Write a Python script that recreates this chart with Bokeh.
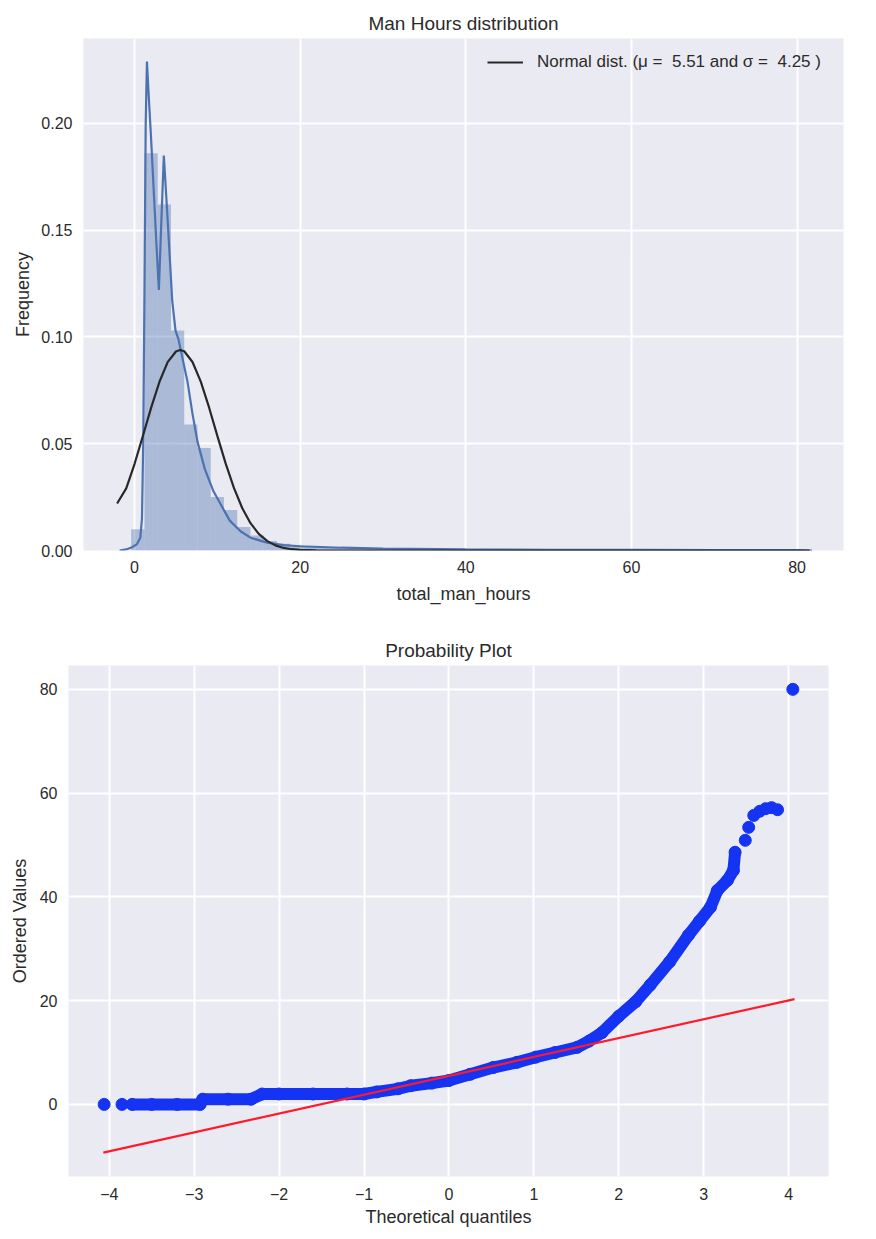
import numpy as np
from bokeh.plotting import figure
from bokeh.models import Range1d, FixedTicker, Legend, LegendItem
from bokeh.layouts import column, row
from bokeh.embed import file_html
from bokeh.resources import INLINE

FONT = "Liberation Sans"
TXT = "#2b2b2b"
BG = "#EAEAF2"

# ---------------- data: top panel (histogram + KDE + normal fit) ----------------
hist_edges = [-0.4, 1.2, 2.8, 4.4, 6.0, 7.6, 9.2, 10.8, 12.4, 14.0, 15.6, 17.2, 18.8,
              20.4, 22.0, 23.6, 25.2, 26.8, 28.4, 30.0, 31.6, 33.2, 34.8, 36.4, 38.0,
              39.6, 41.2, 42.8, 44.4, 46.0, 47.6, 49.2, 50.8, 52.4, 54.0, 55.6, 57.2,
              58.8, 60.4, 62.0, 63.6, 65.2, 66.8, 68.4, 70.0, 71.6, 73.2, 74.8, 76.4,
              78.0, 79.6, 81.2]
hist_density = [0.010, 0.186, 0.162, 0.103, 0.059, 0.048, 0.025, 0.019, 0.011, 0.007,
                0.0045, 0.0032, 0.0025, 0.0019, 0.0015, 0.0012, 0.0010, 0.0008, 0.0007, 0.0006,
                0.0005, 0.0004, 0.0004, 0.0003, 0.0003, 0.0002, 0.0002, 0.0002, 0.0002, 0.0001,
                0.0001, 0.0001, 0.0001, 0.0001, 0.0001, 0.0001, 0.0001, 0.0001,
                0.0, 0.0, 0.0, 0.0, 0.0, 0.0, 0.0, 0.0, 0.0, 0.0, 0.0, 0.0, 0.00005]

kde_x = [-1.8, -1.0, -0.3, 0.3, 0.7, 0.9, 1.05, 1.2, 1.35, 1.5, 1.7, 2.0, 2.3, 2.6, 2.94,
         3.2, 3.54, 3.8, 4.1, 4.55, 4.95, 5.3, 5.9, 6.4, 7.0, 7.6, 8.5, 9.5, 10.5, 11.5,
         12.8, 14.0, 16.0, 18.0, 20.0, 25.0, 30.0, 40.0, 50.0, 60.0, 70.0, 80.0, 81.8]
kde_y = [0.0, 0.0005, 0.0015, 0.003, 0.006, 0.015, 0.05, 0.12, 0.20, 0.229, 0.214, 0.193,
         0.170, 0.147, 0.122, 0.150, 0.185, 0.168, 0.148, 0.117, 0.103, 0.099, 0.088, 0.079,
         0.064, 0.051, 0.038, 0.028, 0.021, 0.014, 0.009, 0.006, 0.0037, 0.0025, 0.002,
         0.0013, 0.0009, 0.0005, 0.0003, 0.0003, 0.0002, 0.0002, 0.0]

norm_x = [-2.1, -1.0, 0.0, 1.0, 2.0, 3.0, 4.0, 5.0, 5.51, 6.0, 7.0, 8.0, 9.0, 10.0, 11.0,
          12.0, 13.0, 14.0, 15.0, 16.0, 17.0, 18.0, 19.0, 20.0, 22.0, 25.0, 30.0, 40.0,
          60.0, 81.5]
norm_y = [0.022, 0.0291, 0.0405, 0.0535, 0.0668, 0.0789, 0.0882, 0.0932, 0.0939, 0.0933,
          0.0883, 0.0791, 0.0670, 0.0537, 0.0408, 0.0293, 0.0199, 0.0128, 0.0078, 0.0045,
          0.0024, 0.0012, 0.0006, 0.0003, 0.00005, 0.0, 0.0, 0.0, 0.0, 0.0]

legend_label = "Normal dist. (\u03bc =  5.51 and \u03c3 =  4.25 )"
top_xticks = [0, 20, 40, 60, 80]
top_yticks = [0.0, 0.05, 0.10, 0.15, 0.20]

# ---------------- data: bottom panel (probability plot) ----------------
qq_x = [-4.06, -3.85, -3.73, -3.5, -3.2, -2.93, -2.90, -2.6, -2.33, -2.2, -2.0, -1.6,
        -1.2, -1.0, -0.85, -0.6, -0.45, -0.2, 0.0, 0.25, 0.52, 0.8, 1.02, 1.25, 1.51,
        1.65, 1.8, 2.0, 2.2, 2.37, 2.6, 2.82, 2.95, 3.08, 3.16, 3.28, 3.35, 3.37, 3.49,
        3.53, 3.59, 3.66, 3.73, 3.80, 3.87, 4.05]
qq_y = [0, 0, 0, 0, 0, 0, 1, 1, 1, 2, 2, 2,
        2, 2, 2.4, 3.0, 3.6, 4.1, 4.6, 5.8, 7.1, 8.1, 9.1, 10.0, 11.0,
        12.2, 13.8, 17.0, 19.8, 23.0, 27.5, 32.6, 35.3, 38.0, 41.2, 43.2, 45.1, 48.6, 50.9,
        53.4, 55.7, 56.5, 57.0, 57.2, 56.8, 80.0]
fit_x = [-4.07, 4.07]
fit_y = [-9.3, 20.3]
bot_xticks = [-4, -3, -2, -1, 0, 1, 2, 3, 4]
bot_yticks = [0, 20, 40, 60, 80]


def style(p, title, xlabel, ylabel, xt_standoff, xl_standoff, yt_standoff, yl_standoff):
    p.outline_line_color = None
    p.title.text = title
    p.title.align = "center"
    p.title.text_font = FONT
    p.title.text_font_size = "19px"
    p.title.text_font_style = "normal"
    p.title.text_color = TXT
    p.title.standoff = 10
    for ax in (p.xaxis[0], p.yaxis[0]):
        ax.axis_line_color = None
        ax.major_tick_line_color = None
        ax.minor_tick_line_color = None
        ax.major_tick_out = 0
        ax.major_tick_in = 0
        ax.major_label_text_font = FONT
        ax.major_label_text_font_size = "16px"
        ax.major_label_text_color = TXT
        ax.axis_label_text_font = FONT
        ax.axis_label_text_font_size = "18px"
        ax.axis_label_text_font_style = "normal"
        ax.axis_label_text_color = TXT
    p.xaxis[0].axis_label = xlabel
    p.yaxis[0].axis_label = ylabel
    p.xaxis[0].major_label_standoff = xt_standoff
    p.xaxis[0].axis_label_standoff = xl_standoff
    p.yaxis[0].major_label_standoff = yt_standoff
    p.yaxis[0].axis_label_standoff = yl_standoff
    for g in (p.xgrid[0], p.ygrid[0]):
        g.grid_line_color = "white"
        g.grid_line_width = 2
        g.minor_grid_line_color = None


# ---------------- top figure ----------------
p1 = figure(frame_width=760, frame_height=512,
            min_border_left=83, min_border_right=25, min_border_top=38, min_border_bottom=70,
            x_range=Range1d(-6.16, 85.6), y_range=Range1d(0, 0.2398),
            output_backend="svg", toolbar_location=None,
            background_fill_color=BG, border_fill_color="white")
style(p1, "Man Hours distribution", "total_man_hours", "Frequency", 10, 8, 11, 5)
p1.xaxis[0].ticker = FixedTicker(ticks=top_xticks)
p1.yaxis[0].ticker = FixedTicker(ticks=top_yticks)
p1.xgrid[0].ticker = FixedTicker(ticks=top_xticks)
p1.ygrid[0].ticker = FixedTicker(ticks=top_yticks)
p1.yaxis[0].major_label_overrides = {t: f"{t:.2f}" for t in top_yticks}

n = len(hist_density)
p1.quad(left=hist_edges[:n], right=hist_edges[1:n + 1], bottom=0, top=hist_density,
        fill_color="#4C72B0", fill_alpha=0.4, line_color=None)
p1.line(kde_x, kde_y, line_color="#4C72B0", line_width=2.2)
nr = p1.line(norm_x, norm_y, line_color="#282828", line_width=2.2)

leg = Legend(items=[LegendItem(label=legend_label, renderers=[nr])],
             location=(404, 478))
leg.border_line_color = None
leg.background_fill_alpha = 0
leg.padding = 0
leg.margin = 0
leg.spacing = 0
leg.glyph_width = 36
leg.glyph_height = 20
leg.label_standoff = 14
leg.label_text_font = FONT
leg.label_text_font_size = "17px"
leg.label_text_color = TXT
p1.add_layout(leg, "center")

# ---------------- bottom figure ----------------
p2 = figure(frame_width=760, frame_height=511,
            min_border_left=68, min_border_right=40, min_border_top=45, min_border_bottom=54,
            x_range=Range1d(-4.48, 4.47), y_range=Range1d(-13.9, 84.6),
            output_backend="svg", toolbar_location=None,
            background_fill_color=BG, border_fill_color="white")
style(p2, "Probability Plot", "Theoretical quantiles", "Ordered Values", 11, 4, 11, 7)
p2.xaxis[0].ticker = FixedTicker(ticks=bot_xticks)
p2.yaxis[0].ticker = FixedTicker(ticks=bot_yticks)
p2.xgrid[0].ticker = FixedTicker(ticks=bot_xticks)
p2.ygrid[0].ticker = FixedTicker(ticks=bot_yticks)
p2.xaxis[0].major_label_overrides = {t: (f"\u2212{abs(t)}" if t < 0 else str(t)) for t in bot_xticks}

QQ_COLOR = "#1533F2"
qx = np.array(qq_x)
qy = np.array(qq_y)
band = (qx >= -3.75) & (qx <= 3.4)
p2.line(qx[band], qy[band], line_color=QQ_COLOR, line_width=12,
        line_cap="round", line_join="round")
p2.scatter(qx, qy, size=12, fill_color=QQ_COLOR, line_color=QQ_COLOR)
p2.line(fit_x, fit_y, line_color="#FF1A2A", line_width=2.2)

layout = column(row(p1), row(p2))
open("out.html", "w").write(file_html(layout, INLINE))
